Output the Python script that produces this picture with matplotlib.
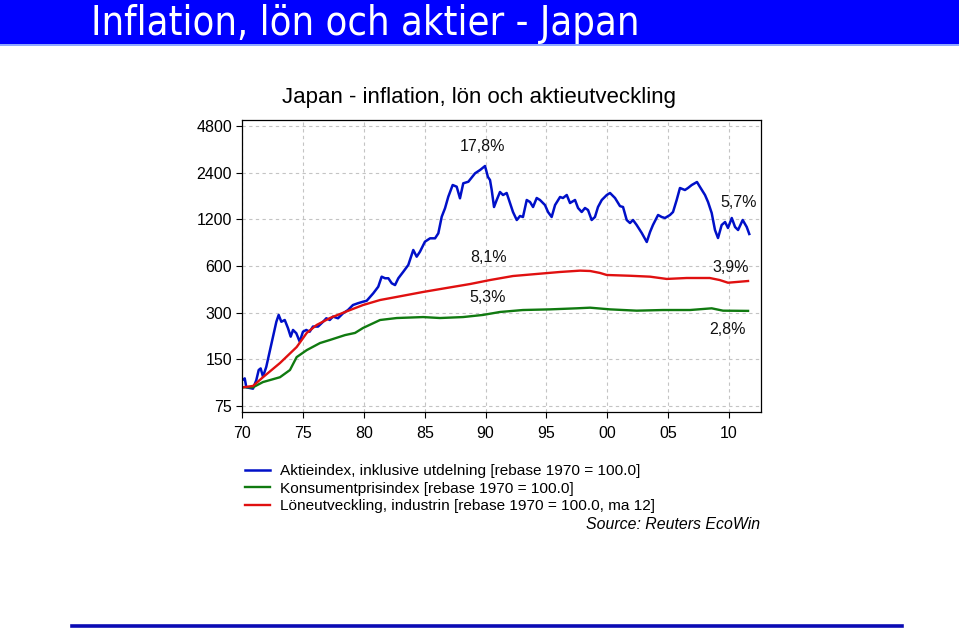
import matplotlib
matplotlib.use('Agg')
import matplotlib.pyplot as plt
from matplotlib.patches import Rectangle
from matplotlib.lines import Line2D

plt.rcParams['font.family'] = ['Liberation Sans', 'DejaVu Sans']

# Aktieindex, inklusive utdelning (rebase 1970 = 100)
stock_years = [
    1970.00, 1970.20, 1970.33, 1970.61, 1970.88, 1971.15, 1971.35, 1971.51,
    1971.70, 1971.97, 1972.25, 1972.52, 1972.80, 1972.99, 1973.21, 1973.49,
    1973.76, 1973.98, 1974.17, 1974.44, 1974.72, 1974.99, 1975.26, 1975.54,
    1975.81, 1976.23, 1976.64, 1976.91, 1977.19, 1977.46, 1977.87, 1978.28,
    1978.69, 1979.10, 1979.51, 1979.93, 1980.23, 1980.77, 1981.18, 1981.46,
    1981.74, 1982.01, 1982.29, 1982.56, 1982.83, 1983.24, 1983.65, 1984.06,
    1984.34, 1984.61, 1985.02, 1985.44, 1985.85, 1986.12, 1986.40, 1986.67,
    1986.94, 1987.30, 1987.63, 1987.90, 1988.17, 1988.59, 1989.14, 1989.55,
    1989.96, 1990.20, 1990.37, 1990.51, 1990.70, 1990.92, 1991.19, 1991.44,
    1991.74, 1992.01, 1992.26, 1992.57, 1992.84, 1993.08, 1993.39, 1993.66,
    1993.91, 1994.21, 1994.48, 1994.89, 1995.14, 1995.44, 1995.72, 1996.13,
    1996.37, 1996.68, 1996.95, 1997.36, 1997.61, 1997.91, 1998.18, 1998.43,
    1998.73, 1999.00, 1999.25, 1999.56, 1999.97, 2000.24, 2000.65, 2001.06,
    2001.31, 2001.61, 2001.88, 2002.13, 2002.43, 2002.85, 2003.26, 2003.53,
    2003.77, 2004.19, 2004.49, 2004.76, 2005.17, 2005.42, 2005.72, 2005.99,
    2006.40, 2006.65, 2006.96, 2007.39, 2007.64, 2008.05, 2008.30, 2008.60,
    2008.87, 2009.12, 2009.42, 2009.70, 2009.94, 2010.25, 2010.52, 2010.77,
    2011.15, 2011.48, 2011.69,
]
stock_values = [
    110, 113, 99, 98, 97, 110, 128, 131,
    116, 134, 168, 210, 262, 290, 262, 269,
    238, 210, 232, 221, 195, 226, 232, 226,
    244, 244, 262, 276, 269, 283, 276, 297,
    312, 336, 345, 353, 358, 400, 441, 512,
    500, 500, 464, 452, 500, 551, 609, 761,
    689, 742, 861, 905, 905, 975, 1248, 1414,
    1679, 1998, 1948, 1640, 2049, 2098, 2377, 2496,
    2649, 2250, 2152, 1855, 1441, 1599, 1801, 1722,
    1774, 1529, 1338, 1188, 1261, 1242, 1599, 1552,
    1441, 1647, 1599, 1484, 1338, 1242, 1484, 1672,
    1647, 1722, 1529, 1599, 1420, 1338, 1420, 1378,
    1188, 1242, 1441, 1599, 1722, 1774, 1647, 1460,
    1441, 1188, 1136, 1188, 1103, 979, 857, 994,
    1103, 1280, 1242, 1224, 1280, 1338, 1599, 1911,
    1855, 1911, 1998, 2089, 1939, 1722, 1552, 1318,
    1024, 909, 1103, 1153, 1055, 1224, 1071, 1024,
    1188, 1071, 965,
]

# Konsumentprisindex (rebase 1970 = 100)
cpi_years = [
    1970.06, 1970.88, 1971.70, 1973.10, 1973.92, 1974.47, 1975.30, 1976.39,
    1977.21, 1978.45, 1979.27, 1979.93, 1981.33, 1982.70, 1984.87, 1986.26,
    1988.15, 1989.79, 1991.19, 1993.08, 1995.30, 1997.50, 1998.60, 2000.24,
    2002.43, 2004.60, 2006.82, 2008.60, 2009.53, 2011.59,
]
cpi_values = [
    99, 99, 107, 115, 128, 155, 172, 191,
    200, 215, 222, 239, 269, 277, 281, 277,
    281, 290, 303, 312, 315, 320, 323, 315,
    309, 312, 312, 320, 309, 308,
]

# Löneutveckling, industrin (rebase 1970 = 100, ma 12)
wage_years = [
    1970.06, 1970.88, 1971.70, 1973.10, 1974.47, 1975.30, 1976.12, 1977.21,
    1978.45, 1979.93, 1981.33, 1982.70, 1984.87, 1986.81, 1988.73, 1990.37,
    1992.26, 1994.21, 1996.13, 1997.78, 1998.60, 1999.42, 1999.97, 2001.88,
    2003.53, 2004.90, 2006.55, 2008.44, 2009.26, 2009.94, 2011.59,
]
wage_values = [
    99, 101, 115, 142, 180, 222, 250, 277,
    303, 336, 362, 379, 408, 433, 459, 487,
    517, 533, 549, 560, 557, 541, 525, 519,
    512, 495, 502, 502, 487, 468, 480,
]

series_labels = [
    'Aktieindex, inklusive utdelning [rebase 1970 = 100.0]',
    'Konsumentprisindex [rebase 1970 = 100.0]',
    'Löneutveckling, industrin [rebase 1970 = 100.0, ma 12]',
]
series_colors = ['#0010c8', '#107a10', '#e01010']

x_ticks = [1970, 1975, 1980, 1985, 1990, 1995, 2000, 2005, 2010]
x_tick_labels = ['70', '75', '80', '85', '90', '95', '00', '05', '10']
y_ticks = [75, 150, 300, 600, 1200, 2400, 4800]

# growth-rate labels: (text, year, level)
growth_notes = [
    ('17,8%', 1989.79, 3514),
    ('8,1%', 1990.21, 676),
    ('5,3%', 1990.21, 373),
    ('5,7%', 2010.85, 1552),
    ('3,9%', 2010.19, 591),
    ('2,8%', 2009.94, 232),
]

fig = plt.figure(figsize=(9.59, 6.30), dpi=100)

# Slide banner and footer line
fig.patches.append(Rectangle((0, 1 - 44 / 630), 1, 44 / 630, transform=fig.transFigure,
                             facecolor='#0000ff', edgecolor='none', zorder=0))
fig.patches.append(Rectangle((0, 1 - 46 / 630), 1, 2 / 630, transform=fig.transFigure,
                             facecolor='#8fa8ff', edgecolor='none', zorder=0))
fig.text(91 / 959, 1 - 24 / 630, 'Inflation, lön och aktier - Japan',
         color='white', fontsize=28.5, family='DejaVu Sans', fontstretch='condensed',
         ha='left', va='center')
fig.lines.append(Line2D([72 / 959, 902 / 959], [1 - 625.5 / 630, 1 - 625.5 / 630],
                        transform=fig.transFigure, color='#0a0ab4', linewidth=2.6))

ax = fig.add_axes([242.3 / 959, 1 - 411.7 / 630, 518.4 / 959, 291.7 / 630])
ax.plot(stock_years, stock_values, color=series_colors[0], linewidth=1.8, label=series_labels[0])
ax.plot(cpi_years, cpi_values, color=series_colors[1], linewidth=1.7, label=series_labels[1])
ax.plot(wage_years, wage_values, color=series_colors[2], linewidth=1.7, label=series_labels[2])

ax.set_yscale('log', base=2)
ax.set_ylim(68.9, 5247)
ax.set_xlim(1970.0, 2012.63)
ax.set_yticks(y_ticks)
ax.set_yticklabels([str(v) for v in y_ticks])
ax.minorticks_off()
ax.set_xticks(x_ticks)
ax.set_xticklabels(x_tick_labels)
ax.tick_params(direction='out', length=4.5, width=0.8, labelsize=11.5, color='black')
ax.tick_params(axis='x', pad=6)
ax.tick_params(axis='y', pad=3)
ax.grid(True, color='#c4c4c4', linestyle=(0, (3, 3)), linewidth=0.8)
ax.set_axisbelow(True)
for sp in ax.spines.values():
    sp.set_linewidth(0.9)

for text, yr, lvl in growth_notes:
    ax.text(yr, lvl, text, fontsize=11.5, ha='center', va='center', color='#111111')

fig.text(479 / 959, 1 - 97 / 630, 'Japan - inflation, lön och aktieutveckling',
         fontsize=16, ha='center', va='center')

ax.legend(loc='upper left', bbox_to_anchor=(245 / 959, 1 - 464 / 630),
          bbox_transform=fig.transFigure, frameon=False, fontsize=11.1,
          handlelength=1.6, handletextpad=0.7, labelspacing=0.24,
          borderpad=0, borderaxespad=0)

fig.text(760 / 959, 1 - 524.5 / 630, 'Source: Reuters EcoWin', fontsize=11.4,
         style='italic', ha='right', va='center')

fig.savefig('out.png', dpi=100)
